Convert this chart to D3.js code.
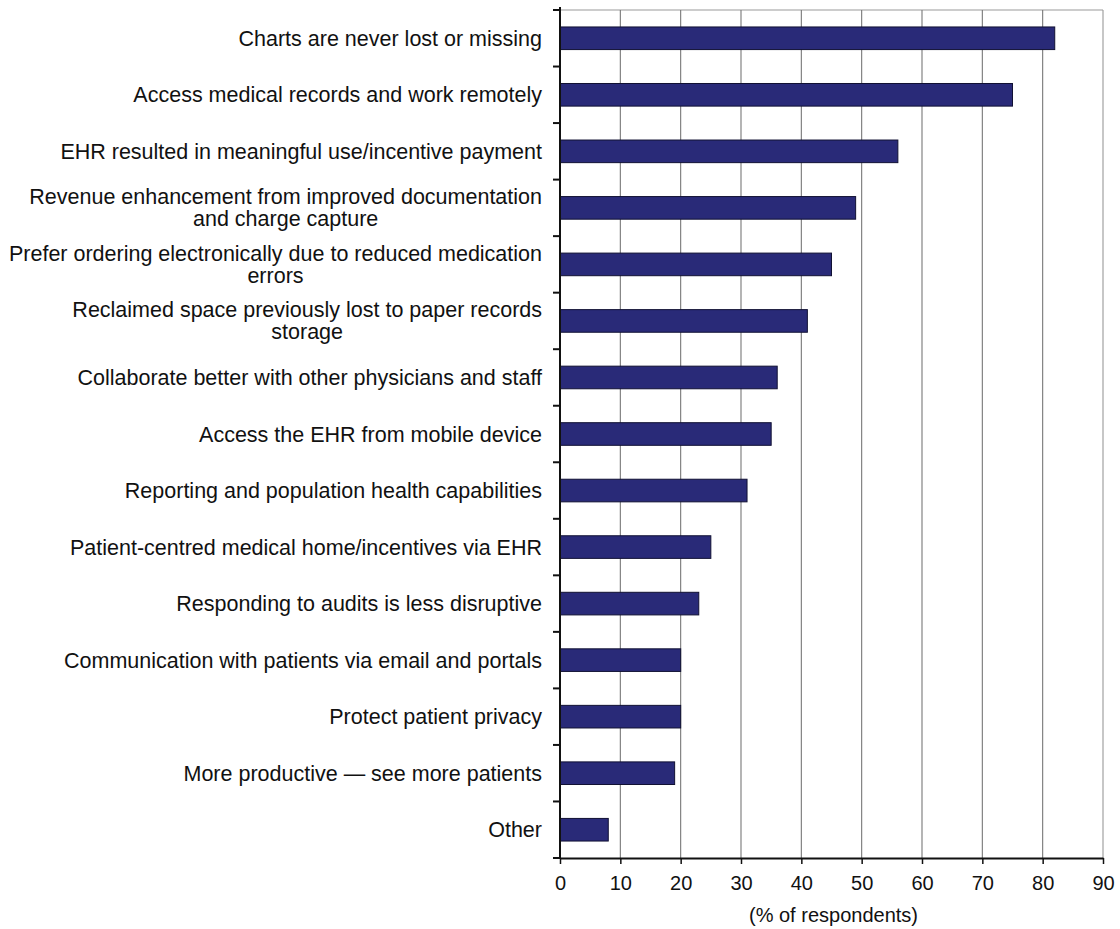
<!DOCTYPE html>
<html><head><meta charset="utf-8">
<script src="https://cdn.jsdelivr.net/npm/d3@7"></script>
<style>
html,body{margin:0;padding:0;background:#fff;}
text{font-family:"Liberation Sans",Arial,sans-serif;fill:#111;}
</style></head><body>
<svg id="c" width="1120" height="929"></svg>
<script>
const categories = [
  ["Charts are never lost or missing"],
  ["Access medical records and work remotely"],
  ["EHR resulted in meaningful use/incentive payment"],
  ["Revenue enhancement from improved documentation","and charge capture"],
  ["Prefer ordering electronically due to reduced medication","errors"],
  ["Reclaimed space previously lost to paper records","storage"],
  ["Collaborate better with other physicians and staff"],
  ["Access the EHR from mobile device"],
  ["Reporting and population health capabilities"],
  ["Patient-centred medical home/incentives via EHR"],
  ["Responding to audits is less disruptive"],
  ["Communication with patients via email and portals"],
  ["Protect patient privacy"],
  ["More productive \u2014 see more patients"],
  ["Other"]
];
const values = [82, 75, 56, 49, 45, 41, 36, 35, 31, 25, 23, 20, 20, 19, 8];
const xTicks = [0,10,20,30,40,50,60,70,80,90];
const xTitle = "(% of respondents)";

const svg = d3.select("#c");
const L = 560, R = 1103, T = 10, B = 858;
const x = d3.scaleLinear().domain([0,90]).range([L,R]);
const keys = categories.map((c,i)=>i);
const y = d3.scaleBand().domain(keys).range([T,B]).paddingInner(0.6).paddingOuter(0.3);

// frame top
svg.append("line").attr("x1",L).attr("x2",R).attr("y1",T).attr("y2",T).attr("stroke","#999").attr("stroke-width",1.2);
// gridlines
svg.append("g").selectAll("line").data(xTicks.slice(1)).join("line")
  .attr("x1",d=>x(d)).attr("x2",d=>x(d)).attr("y1",T).attr("y2",B)
  .attr("stroke",(d)=>d===90?"#999":"#777").attr("stroke-width",1.1);

// bars
svg.append("g").selectAll("rect").data(values).join("rect")
  .attr("x",x(0)).attr("y",(d,i)=>y(i)).attr("width",d=>x(d)-x(0)).attr("height",y.bandwidth())
  .attr("fill","#292a78").attr("stroke","#111133").attr("stroke-width",1);

// left axis with ticks at category boundaries
const bounds = d3.range(categories.length+1).map(i=>T + i*(B-T)/categories.length);
svg.append("line").attr("x1",L).attr("x2",L).attr("y1",T-3).attr("y2",B).attr("stroke","#111").attr("stroke-width",2);
svg.append("g").selectAll("line").data(bounds).join("line")
  .attr("x1",L-7).attr("x2",L).attr("y1",d=>d).attr("y2",d=>d).attr("stroke","#111").attr("stroke-width",2);

// bottom axis
const xAxis = svg.append("g").attr("transform",`translate(0,${B})`)
  .call(d3.axisBottom(x).tickValues(xTicks).tickSize(6).tickSizeOuter(0));
xAxis.select(".domain").attr("stroke","#111").attr("stroke-width",2);
xAxis.selectAll(".tick line").attr("stroke","#111").attr("stroke-width",1.5);
xAxis.selectAll(".tick text").attr("font-size",20).attr("y",15).attr("dy","0.85em")
  .attr("font-family","Liberation Sans, Arial, sans-serif").attr("fill","#111");

svg.append("text").attr("x",(L+R)/2+2).attr("y",922).attr("text-anchor","middle").attr("font-size",20).text(xTitle);

// category labels
const labelRight = 542;
const lg = svg.append("g");
categories.forEach((lines,i)=>{
  const cy = y(i)+y.bandwidth()/2;
  const g = lg.append("g");
  const lh = 22;
  const texts = lines.map((ln,j)=>g.append("text")
    .attr("font-size",21.5)
    .attr("y", cy + (j-(lines.length-1)/2)*lh).attr("dy","0.35em").text(ln));
  const w = d3.max(texts,t=>t.node().getComputedTextLength());
  const cx = labelRight - w/2;
  texts.forEach(t=>t.attr("x",cx).attr("text-anchor","middle"));
});
</script></body></html>
